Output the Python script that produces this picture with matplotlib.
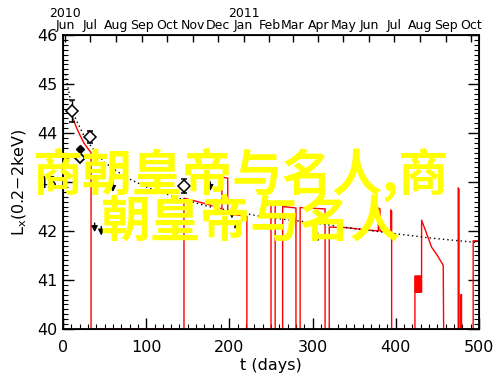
import matplotlib
matplotlib.use("Agg")
import matplotlib.pyplot as plt
from matplotlib.ticker import MultipleLocator

plt.rcParams['font.family'] = ['DejaVu Sans']

# ---- data ----
# red light curve (gaps drawn down to 40)
red_t = [12, 16, 20, 25, 30, 33.7, 33.7,
         145.4, 145.4, 173, 191, 191, 198, 198, 221, 221,
         250, 250, 255, 255, 264, 264, 280, 280, 285, 285, 315, 315,
         320, 320, 339, 379, 379, 381, 381, 394, 394, 395, 395,
         423, 423, 423.8, 423.8, 424.6, 424.6, 425.4, 425.4, 426.2, 426.2,
         427, 427, 427.8, 427.8, 428.6, 428.6, 429.4, 429.4, 430.2, 430.2,
         431, 431, 437, 443, 450, 457, 457.5,
         475, 475, 476, 476, 478, 478, 479, 479, 493, 493, 500]
red_L = [44.30, 44.12, 43.97, 43.80, 43.68, 43.60, 40.0,
         40.0, 42.67, 42.55, 42.45, 43.10, 43.08, 42.35, 42.30, 40.0,
         40.0, 42.57, 42.55, 40.0, 40.0, 42.50, 42.47, 40.0, 40.0, 42.48, 42.45, 40.0,
         40.0, 42.08, 42.07, 42.00, 42.47, 42.45, 42.00, 41.97, 42.43, 42.40, 40.0,
         40.0, 41.08, 41.08, 40.75, 40.75, 41.08, 41.08, 40.75, 40.75, 41.08,
         41.08, 40.75, 40.75, 41.08, 41.08, 40.75, 40.75, 41.08, 41.08, 40.75,
         40.75, 42.22, 41.95, 41.67, 41.50, 41.30, 40.0,
         40.0, 42.88, 42.85, 40.0, 40.0, 40.70, 40.70, 40.0, 40.0, 41.80, 41.80]

# dotted model curve
dot_t = [3, 8, 15, 25, 35, 50, 75, 100, 135, 175, 240, 300, 350, 440, 500]
dot_L = [45.20, 44.75, 44.30, 43.95, 43.70, 43.40, 43.10, 42.90, 42.69,
         42.50, 42.29, 42.17, 42.05, 41.86, 41.76]

# detections (open diamonds with error bars)
det_t = [11, 32, 145]
det_L = [44.45, 43.92, 42.92]
det_err = [0.22, 0.12, 0.15]

# filled detection
fil_t = [21]
fil_L = [43.68]
# extra open diamond
ext_t = [21]
ext_L = [43.50]

# upper limits (down arrows)
ul_t = [38, 46, 60, 177, 203, 306]
ul_L = [42.22, 42.15, 43.04, 43.06, 42.50, 42.02]

# small marker
sm_t = [209]
sm_L = [42.15]

# top axis (months, t=0 on 2010-05-29)
month_t = [3, 33, 64, 95, 125, 156, 186, 217, 248, 276, 307, 337, 368, 398, 429, 460, 490]
month_lab = ["2010\nJun", "Jul", "Aug", "Sep", "Oct", "Nov", "Dec", "2011\nJan",
             "Feb", "Mar", "Apr", "May", "Jun", "Jul", "Aug", "Sep", "Oct"]

xticks = [0, 100, 200, 300, 400, 500]
yticks = [40, 41, 42, 43, 44, 45, 46]

fig = plt.figure(figsize=(5.0, 3.85), dpi=100)
ax = fig.add_axes([0.126, 0.1455, 0.832, 0.7635])

ax.plot(red_t, red_L, color='#ff0000', lw=1.0, zorder=2)
ax.plot(dot_t, dot_L, color='black', lw=1.0, dashes=(1, 2.2), zorder=3)

ax.errorbar(det_t, det_L, yerr=det_err, fmt='D', mfc='white', mec='black',
            ecolor='black', ms=6, mew=1.1, capsize=2.5, elinewidth=1.0, zorder=4)
ax.plot(ext_t, ext_L, 'D', mfc='white', mec='black', ms=5, mew=1.3, zorder=4)
ax.plot(fil_t, fil_L, 'D', color='black', ms=4.5, zorder=5)
ax.plot(sm_t, sm_L, '^', color='black', ms=4, zorder=5)
for t, L in zip(ul_t, ul_L):
    ax.annotate('', xy=(t, L - 0.3), xytext=(t, L),
                arrowprops=dict(arrowstyle='-|>,head_length=0.35,head_width=0.18',
                                color='black', lw=1.0), zorder=5)

ax.set_xlim(0, 500)
ax.set_ylim(40, 46)
ax.set_xticks(xticks)
ax.set_yticks(yticks)
ax.xaxis.set_minor_locator(MultipleLocator(10))
ax.yaxis.set_minor_locator(MultipleLocator(0.1))
ax.tick_params(which='major', direction='in', length=8, width=1.0,
               labelsize=11.5, top=False, right=True)
ax.tick_params(which='minor', direction='in', length=3.5, width=0.8,
               top=False, right=True)
ax.tick_params(axis='x', which='major', pad=8)
ax.tick_params(axis='y', which='major', pad=4)
ax.tick_params(axis='y', which='both', labelright=False)
ax.set_xlabel("t (days)", fontsize=11.5, labelpad=2)
ax.set_ylabel(r"L$_{\rm x}$(0.2$-$2keV)", fontsize=11.5, labelpad=6)
for s in ax.spines.values():
    s.set_linewidth(1.3)

top = ax.twiny()
top.set_xlim(0, 500)
top.set_xticks(month_t)
top.set_xticklabels(month_lab, fontsize=9, linespacing=0.9)
top.tick_params(axis='x', which='major', direction='in', length=5, width=1.0, pad=2)
top.xaxis.set_minor_locator(plt.NullLocator())

fig.text(0.48, 1 - 175 / 385, "商朝皇帝与名人,商", color='#ffff00', fontsize=36,
         fontweight='bold', family=['Noto Sans CJK SC', 'DejaVu Sans'],
         ha='center', va='center', zorder=10)
fig.text(0.50, 1 - 222.5 / 385, "朝皇帝与名人", color='#ffff00', fontsize=36,
         fontweight='bold', family=['Noto Sans CJK SC', 'DejaVu Sans'],
         ha='center', va='center', zorder=10)

fig.savefig("out.png", dpi=100)
